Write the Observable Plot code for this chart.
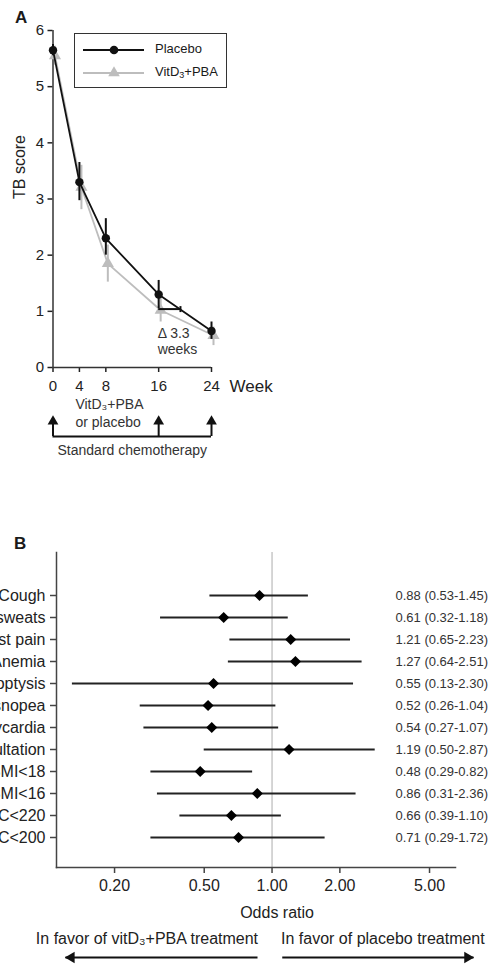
<!DOCTYPE html>
<html><head><meta charset="utf-8">
<script src="https://cdn.jsdelivr.net/npm/d3@7"></script>
<script src="https://cdn.jsdelivr.net/npm/@observablehq/plot@0.6"></script>
<style>
body{margin:0;background:#fff;font-family:"Liberation Sans",Arial,sans-serif;color:#1a1a1a;}
#root{position:relative;width:490px;height:964px;overflow:hidden;}
#root > svg{position:absolute;left:0;}
.panel{position:absolute;font-weight:bold;font-size:17px;line-height:17px;}
.legend{position:absolute;left:74px;top:33px;width:153px;height:55px;box-sizing:border-box;border:1.5px solid #333;font-size:13px;}
.legend .lab{position:absolute;left:80px;line-height:16px;}
.legend svg{position:absolute;left:0;}
</style></head><body><div id="root"></div>
<script>
// ---------- Panel A data ----------
const weeks = [0, 4, 8, 16, 24];
const placeboMean = [5.65, 3.30, 2.30, 1.30, 0.65];
const placeboLow  = [5.55, 2.97, 2.00, 1.05, 0.50];
const placeboHigh = [5.75, 3.65, 2.65, 1.55, 0.81];
const vitMean = [5.55, 3.21, 1.85, 1.02, 0.57];
const vitLow  = [5.38, 2.81, 1.52, 0.81, 0.39];
const vitHigh = [5.72, 3.60, 2.18, 1.25, 0.72];
const seriesNames = ["Placebo", "VitD₃+PBA"];
const seriesColors = ["#111111", "#bdbdbd"];
const seriesSymbols = ["circle", "triangle"];
const scoreTicks = [0, 1, 2, 3, 4, 5, 6];
const deltaStartWeek = 16, deltaWeeks = 3.3, deltaLevel = 1.04;
const chemoWeeks = [0, 16, 24];
const interventionWeek = 4;

// ---------- Panel B data ----------
const outcomes = ["Cough", "Night sweats", "Chest pain", "Anemia", "Hemoptysis", "Dysnopea",
  "Tachycardia", "Auscultation", "BMI<18", "BMI<16", "MUAC<220", "MUAC<200"];
const oddsRatio = [0.88, 0.61, 1.21, 1.27, 0.55, 0.52, 0.54, 1.19, 0.48, 0.86, 0.66, 0.71];
const ciLow     = [0.53, 0.32, 0.65, 0.64, 0.13, 0.26, 0.27, 0.50, 0.29, 0.31, 0.39, 0.29];
const ciHigh    = [1.45, 1.18, 2.23, 2.51, 2.30, 1.04, 1.07, 2.87, 0.82, 2.36, 1.10, 1.72];
const orTicks = [0.2, 0.5, 1, 2, 5];
const orDomain = [0.1105, 6.52];
const favorLeftLabel = "In favor of vitD₃+PBA treatment";
const favorRightLabel = "In favor of placebo treatment";
const favorArrows = [{from: 0.862, to: 0.121}, {from: 1.11, to: 7.84}];

const FONT = "Liberation Sans, Arial, sans-serif";
const root = document.getElementById("root");

const series = [
  {name: seriesNames[0], color: seriesColors[0], symbol: seriesSymbols[0], mean: placeboMean, lo: placeboLow, hi: placeboHigh, dx: 0},
  {name: seriesNames[1], color: seriesColors[1], symbol: seriesSymbols[1], mean: vitMean, lo: vitLow, hi: vitHigh, dx: 2}
];
const rowsOf = s => weeks.map((w, i) => ({week: w, mean: s.mean[i], lo: s.lo[i], hi: s.hi[i]}));

const vtick = {draw(ctx, size) { const r = Math.sqrt(size / Math.PI); ctx.moveTo(0, -r); ctx.lineTo(0, r); }};

const seriesMarks = [...series].reverse().flatMap(s => {
  const rows = rowsOf(s);
  return [
    Plot.ruleX(rows, {x: "week", y1: "lo", y2: "hi", stroke: s.color, strokeWidth: 2, dx: s.dx}),
    Plot.line(rows, {x: "week", y: "mean", stroke: s.color, strokeWidth: 1.8, dx: s.dx}),
    Plot.dot(rows, {x: "week", y: "mean", symbol: s.symbol, fill: s.color, r: s.symbol === "circle" ? 4.2 : 4.5, dx: s.dx})
  ];
});

const plotA = Plot.plot({
  width: 490, height: 400, marginLeft: 52.5, marginRight: 279, marginTop: 30, marginBottom: 33,
  style: {fontFamily: FONT, fontSize: "15px", color: "#222", background: "transparent"},
  x: {domain: [0, 24]},
  y: {domain: [0, 6]},
  marks: [
    Plot.axisY({ticks: scoreTicks, tickFormat: "d", tickSize: 5, tickPadding: 4, label: null, fontSize: 15, strokeWidth: 1.5}),
    Plot.axisX({ticks: weeks, tickFormat: "d", tickSize: 5, tickPadding: 8, label: null, fontSize: 15, strokeWidth: 1.5}),
    Plot.ruleX([0], {stroke: "#333", strokeWidth: 1.5}),
    Plot.ruleY([0], {stroke: "#333", strokeWidth: 1.5}),
    Plot.text(["TB score"], {frameAnchor: "left", rotate: -90, dx: -33, fontSize: 16}),
    Plot.text(["Week"], {frameAnchor: "bottom-right", lineAnchor: "middle", dx: 18, dy: 19, textAnchor: "start", fontSize: 17}),
    ...seriesMarks,
    Plot.ruleY([deltaLevel], {x1: deltaStartWeek, x2: deltaStartWeek + deltaWeeks, stroke: "#111", strokeWidth: 2}),
    Plot.dot([deltaStartWeek + deltaWeeks], {x: d => d, y: deltaLevel, symbol: vtick, r: 3, stroke: "#111", fill: "none", strokeWidth: 2}),
    Plot.text([`Δ ${deltaWeeks}\nweeks`], {x: deltaStartWeek, y: deltaLevel, textAnchor: "start", dx: -1, dy: 32, lineHeight: 1.15, fontSize: 14, fill: "#333"})
  ]
});
plotA.style.top = "0px";
root.appendChild(plotA);

const plotT = Plot.plot({
  width: 490, height: 70, marginLeft: 52.5, marginRight: 279, marginTop: 29, marginBottom: 26,
  style: {fontFamily: FONT, fontSize: "14px", color: "#222", background: "transparent"},
  x: {domain: [0, 24], axis: null},
  y: {domain: [0, 1], axis: null},
  marks: [
    Plot.ruleY([0], {stroke: "#111", strokeWidth: 2}),
    Plot.ruleX(chemoWeeks, {y1: 0, y2: 1, stroke: "#111", strokeWidth: 2}),
    Plot.dot(chemoWeeks, {x: d => d, y: 1, symbol: "triangle", r: 4, fill: "#111"}),
    Plot.text(["VitD₃+PBA\nor placebo"], {x: interventionWeek, frameAnchor: "top", lineAnchor: "middle", dx: -4, dy: -9, textAnchor: "start", lineHeight: 1.29, fontSize: 14, fill: "#333"}),
    Plot.text(["Standard chemotherapy"], {frameAnchor: "bottom", lineAnchor: "middle", dy: 14, fontSize: 14, fill: "#333"})
  ]
});
plotT.style.top = "392px";
root.appendChild(plotT);

// Legend
const legend = document.createElement("div");
legend.className = "legend";
series.forEach((s, i) => {
  const cy = 16 + i * 23;
  const ns = "http://www.w3.org/2000/svg";
  const sv = document.createElementNS(ns, "svg");
  sv.setAttribute("width", "75"); sv.setAttribute("height", "52");
  sv.style.top = "0px";
  const ln = document.createElementNS(ns, "line");
  ln.setAttribute("x1", 8); ln.setAttribute("x2", 69); ln.setAttribute("y1", cy); ln.setAttribute("y2", cy);
  ln.setAttribute("stroke", s.color); ln.setAttribute("stroke-width", 2);
  sv.appendChild(ln);
  const p = document.createElementNS(ns, "path");
  p.setAttribute("d", d3.symbol(s.symbol === "circle" ? d3.symbolCircle : d3.symbolTriangle, Math.PI * 4.3 * 4.3)());
  p.setAttribute("transform", `translate(39,${cy})`);
  p.setAttribute("fill", s.color);
  sv.appendChild(p);
  legend.appendChild(sv);
  const lab = document.createElement("div");
  lab.className = "lab";
  lab.style.top = (cy - 9) + "px";
  lab.innerHTML = s.name.replace("₃", "<sub style='font-size:9px;vertical-align:-2px'>3</sub>");
  legend.appendChild(lab);
});
root.appendChild(legend);

// Panel letters
for (const [t, top, left] of [["A", 9, 15], ["B", 535, 14]]) {
  const d = document.createElement("div");
  d.className = "panel"; d.textContent = t; d.style.top = top + "px"; d.style.left = left + "px";
  root.appendChild(d);
}

// ---------- Panel B ----------
const forest = outcomes.map((o, i) => ({outcome: o, or: oddsRatio[i], lo: ciLow[i], hi: ciHigh[i]}));
const plotB = Plot.plot({
  width: 490, height: 395, marginLeft: 56, marginRight: 35, marginTop: 22, marginBottom: 58,
  style: {fontFamily: FONT, fontSize: "15px", color: "#222", background: "transparent"},
  x: {type: "log", domain: orDomain},
  y: {type: "point", domain: outcomes, range: [52.3, 320]},
  marks: [
    Plot.ruleX([1], {stroke: "#c8c8c8", strokeWidth: 1.5}),
    Plot.frame({anchor: "left", stroke: "#444", strokeWidth: 1.5}),
    Plot.frame({anchor: "bottom", stroke: "#444", strokeWidth: 1.5}),
    Plot.axisY({tickSize: 6, tickPadding: 5, fontSize: 16, label: null, strokeWidth: 1.5, stroke: "#444"}),
    Plot.axisX({ticks: orTicks, tickFormat: ".2f", tickSize: 6, tickPadding: 6, fontSize: 16, label: null, strokeWidth: 1.5, stroke: "#444"}),
    Plot.ruleY(forest, {y: "outcome", x1: "lo", x2: "hi", stroke: "#222", strokeWidth: 1.8}),
    Plot.dot(forest, {x: "or", y: "outcome", symbol: "diamond2", r: 5, fill: "#000"}),
    Plot.text(forest, {y: "outcome", frameAnchor: "right", dx: -60, textAnchor: "start", fontSize: 13, fill: "#333",
      text: d => `${d.or.toFixed(2)} (${d.lo.toFixed(2)}-${d.hi.toFixed(2)})`}),
    Plot.text(["Odds ratio"], {x: 1, frameAnchor: "bottom", lineAnchor: "middle", dx: 5, dy: 45, fontSize: 16})
  ]
});
plotB.style.top = "530px";
root.appendChild(plotB);

const plotF = Plot.plot({
  width: 490, height: 45, marginLeft: 56, marginRight: 35, marginTop: 13, marginBottom: 13,
  style: {fontFamily: FONT, fontSize: "16px", color: "#222", background: "transparent", overflow: "visible"},
  x: {type: "log", domain: orDomain, axis: null},
  y: {domain: [0, 1], axis: null},
  marks: [
    Plot.text([favorLeftLabel], {x: 1, y: 1, textAnchor: "end", dx: -14, fontSize: 16}),
    Plot.text([favorRightLabel], {x: 1, y: 1, textAnchor: "start", dx: 9, fontSize: 16}),
    Plot.link(favorArrows, {x1: "from", x2: "to", y1: 0, y2: 0, stroke: "#111", strokeWidth: 1.8}),
    Plot.dot(favorArrows.filter(a => a.to < 1), {x: "to", y: 0, symbol: "triangle", rotate: -90, dx: 6, r: 4.2, fill: "#111"}),
    Plot.dot(favorArrows.filter(a => a.to > 1), {x: "to", y: 0, symbol: "triangle", rotate: 90, dx: -6, r: 4.2, fill: "#111"})
  ]
});
plotF.style.top = "925px";
root.appendChild(plotF);
</script></body></html>
